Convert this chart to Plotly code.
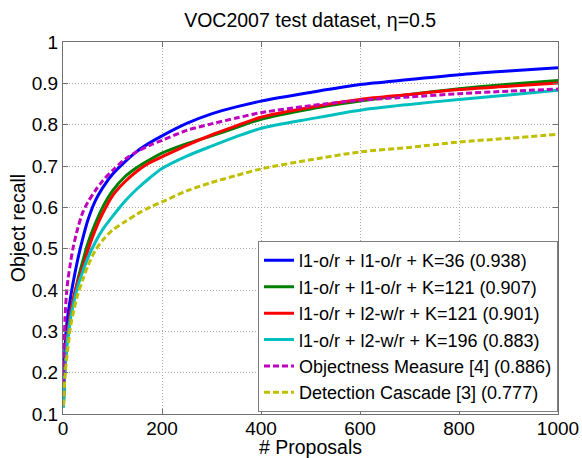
import plotly.graph_objects as go

proposals = [1, 2, 4, 7, 10, 15, 20, 30, 40, 50, 65, 80, 100, 125, 150, 175, 200,
             250, 300, 350, 400, 500, 600, 700, 800, 900, 1000]

blue_l1_l1_k36 = [0.13, 0.19, 0.26, 0.31, 0.34, 0.38, 0.415, 0.475, 0.525, 0.568, 0.615, 0.647, 0.680, 0.710, 0.736, 0.756, 0.773,
                  0.803, 0.826, 0.843, 0.857, 0.878, 0.897, 0.909, 0.921, 0.930, 0.938]
green_l1_l1_k121 = [0.12, 0.16, 0.21, 0.26, 0.29, 0.34, 0.37, 0.425, 0.470, 0.512, 0.560, 0.600, 0.640, 0.674, 0.697, 0.715, 0.731,
                    0.754, 0.773, 0.793, 0.813, 0.838, 0.857, 0.873, 0.887, 0.898, 0.907]
red_l1_l2_k121 = [0.13, 0.17, 0.22, 0.27, 0.30, 0.345, 0.375, 0.420, 0.455, 0.495, 0.545, 0.585, 0.628, 0.662, 0.688, 0.708, 0.722,
                  0.750, 0.775, 0.797, 0.818, 0.842, 0.861, 0.873, 0.885, 0.893, 0.901]
cyan_l1_l2_k196 = [0.115, 0.16, 0.21, 0.26, 0.29, 0.33, 0.36, 0.410, 0.445, 0.477, 0.515, 0.546, 0.578, 0.615, 0.645, 0.671, 0.694,
                   0.724, 0.748, 0.771, 0.791, 0.814, 0.835, 0.849, 0.861, 0.872, 0.883]
magenta_objectness = [0.17, 0.25, 0.33, 0.39, 0.425, 0.465, 0.50, 0.550, 0.588, 0.612, 0.640, 0.664, 0.689, 0.716, 0.735, 0.750, 0.762,
                      0.786, 0.802, 0.816, 0.829, 0.846, 0.859, 0.867, 0.875, 0.881, 0.886]
yellow_cascade = [0.12, 0.15, 0.19, 0.23, 0.26, 0.31, 0.34, 0.390, 0.425, 0.458, 0.495, 0.520, 0.545, 0.565, 0.584, 0.600, 0.613,
                  0.640, 0.660, 0.677, 0.693, 0.715, 0.734, 0.745, 0.758, 0.767, 0.777]

series = [
    ("l1-o/r + l1-o/r + K=36 (0.938)", blue_l1_l1_k36, "#0000FF", "solid"),
    ("l1-o/r + l1-o/r + K=121 (0.907)", green_l1_l1_k121, "#008000", "solid"),
    ("l1-o/r + l2-w/r + K=121 (0.901)", red_l1_l2_k121, "#FF0000", "solid"),
    ("l1-o/r + l2-w/r + K=196 (0.883)", cyan_l1_l2_k196, "#00BFBF", "solid"),
    ("Objectness Measure [4] (0.886)", magenta_objectness, "#BF00BF", "6px,3px"),
    ("Detection Cascade [3] (0.777)", yellow_cascade, "#BFBF00", "6px,3px"),
]

x_ticks = [0, 200, 400, 600, 800, 1000]
y_ticks = [0.1, 0.2, 0.3, 0.4, 0.5, 0.6, 0.7, 0.8, 0.9, 1.0]
y_tick_labels = ["0.1", "0.2", "0.3", "0.4", "0.5", "0.6", "0.7", "0.8", "0.9", "1"]

fig = go.Figure()
for name, vals, color, dash in series:
    fig.add_trace(go.Scatter(
        x=proposals, y=vals, mode="lines", name=name,
        line=dict(color=color, width=3, dash=dash, shape="spline", smoothing=0.8),
    ))

axis_common = dict(
    showline=True, linecolor="#707070", linewidth=1, mirror="ticks",
    ticks="inside", ticklen=5, tickcolor="#707070",
    showgrid=True, gridcolor="#a8a8a8", griddash="1px,2px", gridwidth=1,
    zeroline=False, tickfont=dict(size=19, color="black"), automargin=False,
)

fig.update_layout(
    width=582, height=458,
    margin=dict(l=63, r=24, t=42, b=44),
    paper_bgcolor="white", plot_bgcolor="white",
    font=dict(family="Liberation Sans, Arial, sans-serif", color="black"),
    title=dict(text="VOC2007 test dataset, η=0.5", x=0.533, xanchor="center",
               y=1 - 20 / 458, yanchor="middle", yref="container",
               font=dict(size=19.5)),
    xaxis=dict(range=[0, 1000], tickvals=x_ticks, ticklabelstandoff=-3,
               title=dict(text="# Proposals", font=dict(size=19.5), standoff=0),
               **axis_common),
    yaxis=dict(range=[0.1, 1.0], tickvals=y_ticks, ticktext=y_tick_labels,
               title=dict(text="Object recall", font=dict(size=19.5), standoff=0),
               **axis_common),
    legend=dict(x=1, xanchor="right", y=0.005, yanchor="bottom",
                bgcolor="white", bordercolor="#808080", borderwidth=1,
                font=dict(size=18), tracegroupgap=0),
    showlegend=True,
)

fig.write_html(
    "out.html",
    config={"displayModeBar": False},
    post_script="document.body.style.margin='0';document.body.style.padding='0';",
)
